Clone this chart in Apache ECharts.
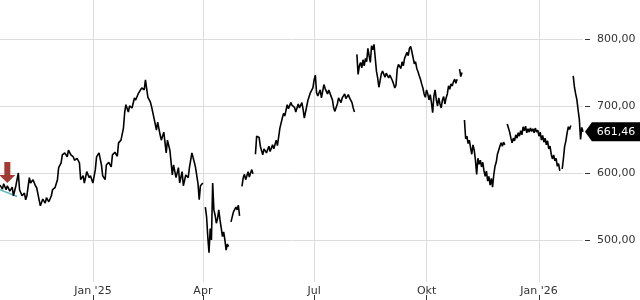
<!DOCTYPE html>
<html><head><meta charset="utf-8">
<script src="https://cdn.jsdelivr.net/npm/echarts@6/dist/echarts.min.js"></script>
<style>html,body{margin:0;padding:0;background:#fff}#c{width:640px;height:300px}</style>
</head><body><div id="c"></div>
<script>
// day offsets relative to 2025-01-01, null price = gap in the series
const dayOffsets = [
-76,-74,-73,-71,-70,-68,-66,-65,-63,-61,-60,-58,-56,-55,-54,-52,-51,-49,-47,-46,-44,-43,-41,-39,-38,-36,-34,-33,-31,-29,-28,-26,-25,-23,-21,-20,-18,-16,-15,-13,-11,-10,-8,-7,-5,-3,-2,0,2,3,5,7,8,10,11,13,15,16,18,20,21,23,25,26,27,29,30,32,34,35,37,38,40,42,43,45,47,48,50,52,53,55,56,58,60,61,63,65,66,68,70,71,73,74,76,78,79,81,83,84,86,87,88,90,91,
92,93,94,95,96,97,98,99,100,101,102,103,104,105,106,107,108,109,110,111,112,
113,115,117,118,119,120,121,
122,123,124,125,126,127,128,129,130,131,132,
133,134,136,137,139,140,142,144,145,147,148,150,151,153,155,156,157,159,160,162,163,165,166,168,169,171,172,173,175,176,178,180,181,182,183,184,186,187,189,190,192,193,195,196,197,198,200,201,203,204,206,207,209,210,212,213,214,215,
216,217,218,219,220,221,222,223,224,225,226,227,228,229,230,231,232,233,234,235,236,237,239,240,242,243,245,246,247,248,249,250,252,253,254,255,257,258,259,260,261,262,263,264,265,266,267,268,269,270,271,272,273,274,275,276,277,278,279,280,281,282,283,284,285,286,287,288,289,290,291,292,293,294,295,296,297,298,299,300,301,302,303,
304,305,306,307,308,309,310,311,312,313,314,315,316,317,318,319,320,321,322,323,324,325,326,327,328,329,330,331,332,333,334,335,336,337,338,
339,340,341,342,343,344,345,346,347,348,349,350,351,352,353,354,355,356,357,358,359,360,361,362,363,364,365,366,367,368,369,370,371,372,373,374,375,376,377,378,379,380,381,382,383,
384,385,386,387,388,389,390,391,392,
393,394,395,396,397,398,399,400,401];
const prices = [
582,576,584,575,581,573,579,566,581,600,575,566,570,560,566,593,585,590,581,578,560,551,561,555,563,557,566,575,578,590,608,615,627,630,624,634,627,624,619,622,615,590,596,585,602,593,596,585,605,624,630,612,596,590,612,616,609,627,631,625,645,649,667,690,702,691,700,697,712,709,718,721,727,724,739,713,706,699,682,664,676,657,649,661,630,649,634,597,612,593,608,585,602,581,597,593,608,630,616,608,584,560,581,585,null,
549,535,505,481,517,500,585,545,537,525,532,545,530,518,505,512,500,485,494,490,null,
527,542,549,545,552,536,null,
580,593,598,590,596,602,594,600,605,599,null,
628,655,653,640,627,636,630,640,632,642,636,649,641,667,682,689,685,702,696,705,701,698,691,703,697,705,695,682,700,709,720,727,739,746,720,715,724,712,732,726,718,724,714,709,697,692,703,712,705,712,718,711,717,712,705,697,691,null,
777,747,760,765,757,769,760,771,766,786,775,765,790,784,792,772,752,742,728,738,748,752,743,749,742,746,738,733,727,731,755,762,756,766,760,771,780,775,786,789,781,772,763,766,756,751,745,740,733,727,718,713,724,718,709,717,705,690,715,724,709,700,712,703,697,709,714,703,712,718,730,725,733,730,736,740,734,740,null,755,744,750,null,
679,651,655,644,649,638,628,642,634,619,598,622,613,619,609,616,603,595,603,588,595,582,592,579,597,610,616,628,634,640,645,640,646,642,null,
673,667,661,652,645,652,648,657,652,660,655,663,657,669,663,670,660,666,661,667,662,666,660,667,661,664,655,661,649,656,646,652,642,648,636,640,628,621,627,618,622,610,614,603,null,
606,622,640,648,660,669,665,671,null,
745,728,718,709,694,680,650,668,661.46];
const refDays = [-76, -62];
const refPrices = [575, 565];
const tickDates = ['2025-01-01', '2025-04-01', '2025-07-01', '2025-10-01', '2026-01-01'];
const tickLabels = ["Jan '25", 'Apr', 'Jul', 'Okt', "Jan '26"];
const yTicks = [500, 600, 700, 800];
const markerDay = -70, markerPrice = 585;

const baseUTC = Date.UTC(2025, 0, 1);
function dayOf(s) { const p = s.split('-').map(Number); return Math.round((Date.UTC(p[0], p[1] - 1, p[2]) - baseUTC) / 864e5); }
const tickDays = tickDates.map(dayOf);
const lastDay = dayOffsets[dayOffsets.length - 1];
const lastPrice = prices[prices.length - 1];
const fmt = v => v.toFixed(2).replace('.', ',');
const FONT = 'DejaVu Sans';

const chart = echarts.init(document.getElementById('c'), null, { renderer: 'canvas' });
chart.setOption({
  animation: false,
  grid: { left: 0, top: 0, right: 57, bottom: 18, containLabel: false },
  xAxis: [{
    type: 'value', min: -76, max: 401,
    axisLine: { show: false, onZero: false },
    axisTick: { show: false, customValues: tickDays },
    axisLabel: { customValues: tickDays, margin: 4, fontFamily: FONT, fontSize: 11, color: '#333',
      formatter: v => tickLabels[tickDays.indexOf(Math.round(v))] || '' },
    splitLine: { show: true, lineStyle: { color: '#dcdcdc', width: 1 } }
  }, {
    type: 'value', min: -76, max: 401, position: 'bottom', offset: 13,
    axisLine: { show: false, onZero: false },
    axisTick: { show: true, length: 5, customValues: tickDays, lineStyle: { color: '#333' } },
    axisLabel: { show: false },
    splitLine: { show: false }
  }],
  yAxis: {
    type: 'value', position: 'right', min: 437.3, max: 858.2, offset: 2,
    axisLine: { show: false, onZero: false },
    axisTick: { show: true, length: 5, customValues: yTicks, lineStyle: { color: '#333' } },
    axisLabel: { customValues: yTicks, margin: 12, fontFamily: FONT, fontSize: 11, color: '#333', formatter: v => fmt(v) },
    splitLine: { show: true, lineStyle: { color: '#dcdcdc', width: 1 } }
  },
  series: [{
    type: 'line', xAxisIndex: 0,
    data: refDays.map((d, i) => [d, refPrices[i]]),
    showSymbol: false, lineStyle: { color: '#5fb7c0', width: 1.5 }, silent: true
  }, {
    type: 'line', xAxisIndex: 0,
    data: dayOffsets.map((d, i) => [d, prices[i] === null ? '-' : prices[i]]),
    showSymbol: false, connectNulls: false,
    lineStyle: { color: '#000', width: 1.6 },
    markPoint: {
      silent: true,
      data: [{
        coord: [lastDay, lastPrice], symbol: 'path://M0,10L7,0L57,0L57,20L7,20Z',
        symbolSize: [56, 19], symbolOffset: [30, 0], symbolKeepAspect: false,
        itemStyle: { color: '#000' },
        label: { show: true, position: 'inside', offset: [3, 0], formatter: fmt(lastPrice), color: '#fff', fontFamily: FONT, fontSize: 11 }
      }, {
        coord: [markerDay, markerPrice], symbol: 'path://M5,0L11,0L11,13L16,13L8,21L0,13L5,13Z',
        symbolSize: [16, 21], symbolOffset: [0, -10.5], symbolKeepAspect: false,
        itemStyle: { color: '#a23b33' }, label: { show: false }
      }]
    }
  }]
});
</script></body></html>
